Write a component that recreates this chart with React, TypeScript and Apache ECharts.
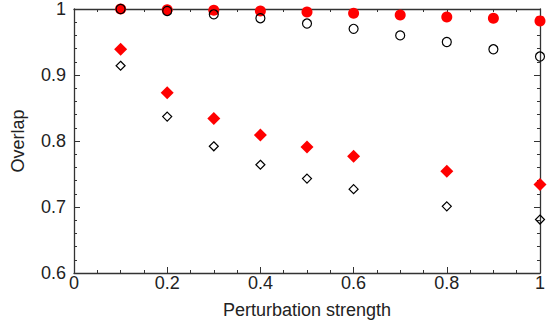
import React, { useEffect, useRef } from "react";
import * as echarts from "echarts";

const strengths = [0.1, 0.2, 0.3, 0.4, 0.5, 0.6, 0.7, 0.8, 0.9, 1.0];
const redCircles = [1.0, 0.999, 0.998, 0.997, 0.9955, 0.9935, 0.991, 0.988, 0.986, 0.982];
const blackCircles = [1.0, 0.997, 0.992, 0.986, 0.978, 0.97, 0.96, 0.95, 0.939, 0.928];
const diamondStrengths = [0.1, 0.2, 0.3, 0.4, 0.5, 0.6, 0.8, 1.0];
const redDiamonds = [0.939, 0.873, 0.834, 0.809, 0.791, 0.777, 0.754, 0.734];
const blackDiamonds = [0.914, 0.837, 0.792, 0.764, 0.743, 0.727, 0.701, 0.681];

const xName = "Perturbation strength";
const yName = "Overlap";

const FONT = "'Liberation Sans', Arial, Helvetica, sans-serif";
const AXIS_COLOR = "#333";
const TEXT_COLOR = "#222";

export default function App() {
  const ref = useRef<HTMLDivElement>(null);
  useEffect(() => {
    if (!ref.current) return;
    const chart = echarts.init(ref.current, undefined, { renderer: "svg" });
    const pair = (xs: number[], ys: number[]) => xs.map((x, i) => [x, ys[i]]);
    const xBase = {
      type: "value" as const,
      min: 0,
      max: 1,
      interval: 0.2,
      axisLine: { show: true, onZero: false, lineStyle: { color: AXIS_COLOR, width: 1.3 } },
      axisTick: { show: true, inside: true, length: 6, lineStyle: { color: AXIS_COLOR } },
      minorTick: { show: true, splitNumber: 4, length: 3, lineStyle: { color: AXIS_COLOR } },
      splitLine: { show: false },
      minorSplitLine: { show: false },
    };
    const yBase = {
      type: "value" as const,
      min: 0.6,
      max: 1,
      interval: 0.1,
      axisLine: { show: true, onZero: false, lineStyle: { color: AXIS_COLOR, width: 1.3 } },
      axisTick: { show: true, inside: true, length: 6, lineStyle: { color: AXIS_COLOR } },
      minorTick: { show: true, splitNumber: 5, length: 3, lineStyle: { color: AXIS_COLOR } },
      splitLine: { show: false },
      minorSplitLine: { show: false },
    };
    chart.setOption({
      animation: false,
      backgroundColor: "#fff",
      grid: { left: 74, right: 4, top: 8, bottom: 56, containLabel: false },
      xAxis: [
        {
          ...xBase,
          position: "bottom",
          name: xName,
          nameLocation: "middle",
          nameGap: 28,
          nameTextStyle: { fontFamily: FONT, fontSize: 18, color: TEXT_COLOR },
          axisLabel: {
            fontFamily: FONT,
            fontSize: 18,
            color: TEXT_COLOR,
            margin: 1,
            formatter: (v: number) => String(Math.round(v * 10) / 10),
          },
        },
        { ...xBase, position: "top", axisLabel: { show: false } },
      ],
      yAxis: [
        {
          ...yBase,
          position: "left",
          name: yName,
          nameLocation: "middle",
          nameGap: 47,
          nameRotate: 90,
          nameTextStyle: { fontFamily: FONT, fontSize: 18, color: TEXT_COLOR },
          axisLabel: {
            fontFamily: FONT,
            fontSize: 18,
            color: TEXT_COLOR,
            margin: 8,
            formatter: (v: number) => String(Math.round(v * 10) / 10),
          },
        },
        { ...yBase, position: "right", axisLabel: { show: false } },
      ],
      series: [
        {
          type: "scatter",
          clip: false,
          data: pair(strengths, redCircles),
          symbol: "circle",
          symbolSize: 11,
          itemStyle: { color: "#ff0000", opacity: 1 },
        },
        {
          type: "scatter",
          clip: false,
          data: pair(strengths, blackCircles),
          symbol: "circle",
          symbolSize: 9,
          itemStyle: { color: "rgba(0,0,0,0)", borderColor: "#000", borderWidth: 1.2, opacity: 1 },
        },
        {
          type: "scatter",
          clip: false,
          data: pair(diamondStrengths, redDiamonds),
          symbol: "diamond",
          symbolSize: 13,
          itemStyle: { color: "#ff0000", opacity: 1 },
        },
        {
          type: "scatter",
          clip: false,
          data: pair(diamondStrengths, blackDiamonds),
          symbol: "diamond",
          symbolSize: 9,
          itemStyle: { color: "rgba(0,0,0,0)", borderColor: "#000", borderWidth: 1.2, opacity: 1 },
        },
      ],
    });
    return () => chart.dispose();
  }, []);
  return <div ref={ref} style={{ width: 548, height: 329, position: "absolute", left: 0, top: 0 }} />;
}
